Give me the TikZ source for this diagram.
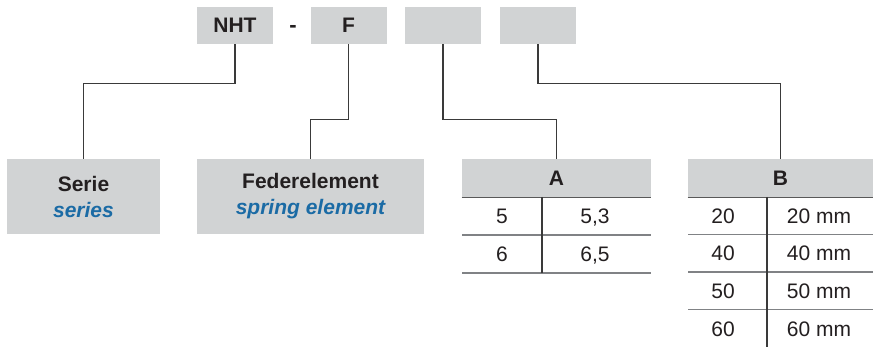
\documentclass[tikz,border=0pt]{standalone}
\usepackage{fontspec}
\setmainfont{Liberation Sans}
\usepackage{tikz}

\definecolor{boxgray}{HTML}{D1D3D4}
\definecolor{txtblue}{HTML}{1B6BA5}
\definecolor{txtblack}{HTML}{231F20}
\definecolor{linedark}{HTML}{3A3A3A}
\definecolor{rowgray}{HTML}{808285}

\begin{document}
\begin{tikzpicture}[x=0.5pt, y=-0.5pt,
		every node/.style={font=\fontsize{10.5}{13}\selectfont, text=txtblack, inner sep=0pt},
		codebox/.style={fill=boxgray, minimum width=38pt, minimum height=18.5pt, font=\fontsize{10.5}{13}\selectfont\bfseries},
		descbox/.style={fill=boxgray, minimum height=37.5pt, align=center, font=\fontsize{10.5}{13}\selectfont\bfseries},
		headbox/.style={fill=boxgray, minimum height=19pt, font=\fontsize{10.5}{13}\selectfont\bfseries},
		cell/.style={text height=7.5pt, text depth=0pt},
		conn/.style={draw=linedark, line width=0.75pt},
		rowsep/.style={draw=rowgray, line width=0.75pt},
		headsep/.style={draw=gray!70!black, line width=0.8pt},
		colsep/.style={draw=linedark, line width=0.6pt}]
		\useasboundingbox (0, 0) rectangle (873, 347);

		% order code
		\node[codebox] (nht) at (235, 25.5) {NHT};
		\node[font=\fontsize{11}{13}\selectfont\bfseries, text height=7.5pt, text depth=0pt] (dash) at (293, 25.5) {-};
		\node[codebox] (fcode) at (348.5, 25.5) {F};
		\node[codebox] (acode) at (443, 25.5) {};
		\node[codebox] (bcode) at (538, 25.5) {};

		% descriptions
		\node[descbox, minimum width=76.5pt] (serie) at (83.5, 196.5) {Serie\\\textcolor{txtblue}{\itshape series}};
		\node[descbox, minimum width=113.5pt] (feder) at (310.5, 196.5) {Federelement\\\textcolor{txtblue}{\itshape spring element}};

		% table A
		\node[headbox, minimum width=94.5pt] (ahead) at (556.5, 178) {A};
		\draw[headsep] (ahead.south west) -- (ahead.south east);
		\foreach \l/\r [count=\i] in {5/{5,3}, 6/{6,5}} {
			\node[cell] (a\i l) at (502, 178 + 38*\i) {\l};
			\node[cell] (a\i r) at (595, 178 + 38*\i) {\r};
			\draw[rowsep] (462, 197 + 38*\i) -- (651, 197 + 38*\i);
		}
		\draw[colsep] (542, 197) -- (542, 273);

		% table B
		\node[headbox, minimum width=92.5pt] (bhead) at (780.5, 178) {B};
		\draw[headsep] (bhead.south west) -- (bhead.south east);
		\foreach \v [count=\i] in {20, 40, 50, 60} {
			\node[cell] (b\i l) at (723, 178.5 + 37.5*\i) {\v};
			\node[cell] (b\i r) at (819, 178.5 + 37.5*\i) {\v~mm};
		}
		\foreach \i in {1, 2, 3}
			\draw[rowsep] (688, 197 + 37.5*\i) -- (873, 197 + 37.5*\i);
		\draw[colsep] (767, 197) -- (767, 347);

		% connectors
		\draw[conn] (nht.south) -- ++(0, 39) -| (serie.north);
		\draw[conn] (fcode.south) -- ++(0, 75) -| (feder.north);
		\draw[conn] (acode.south) -- ++(0, 75) -| (ahead.north);
		\draw[conn] (bcode.south) -- ++(0, 39) -| (bhead.north);
	\end{tikzpicture}
\end{document}
